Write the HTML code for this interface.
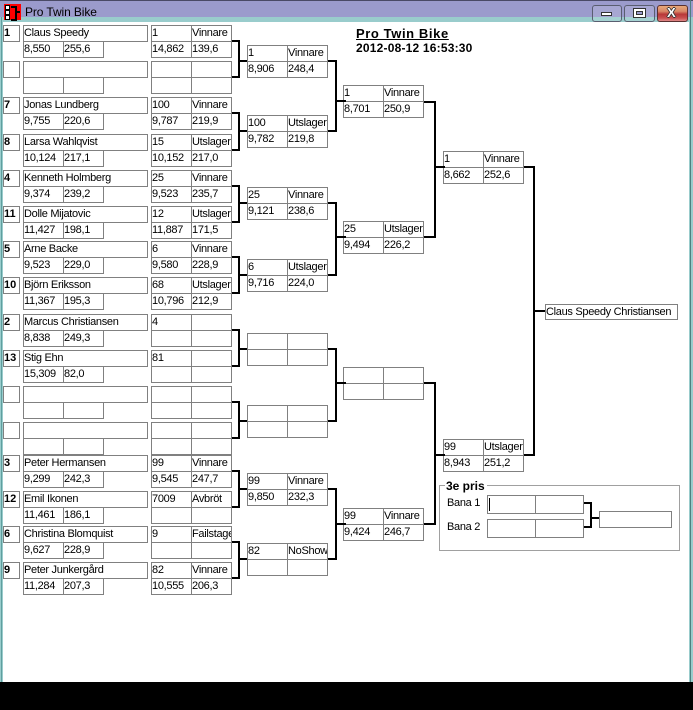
<!DOCTYPE html>
<html><head><meta charset="utf-8">
<style>
*{margin:0;padding:0}
html,body{width:693px;height:710px;overflow:hidden;background:#000}
.win{position:absolute;left:0;top:0;width:693px;height:682px;background:#fff;overflow:hidden}
.c{position:absolute;box-sizing:border-box;border:1px solid #808080;background:#fff;overflow:hidden;white-space:nowrap;height:17px;width:41px;font:11px/14px "Liberation Sans",sans-serif;letter-spacing:-0.3px;color:#000;z-index:1}
.s{width:17px;font-weight:bold;letter-spacing:0}
.n{width:125px}
.l{position:absolute;background:#000;z-index:2}
.a{left:232px;width:8px;height:2px}
.av{left:238px;width:2px}
.am{left:240px;width:7px;height:2px}
.b{left:328px;width:9px;height:2px}
.bv{left:335px;width:2px}
.bm{left:337px;width:9px;height:2px}
.d{left:424px;width:12px;height:2px}
.dv{left:434px;width:2px}
.dm{left:436px;width:9px;height:2px}
.t{position:absolute;white-space:nowrap;font-family:"Liberation Sans",sans-serif;color:#000}
</style></head><body>
<div class="win">
<!-- chrome -->
<div style="position:absolute;left:0;top:0;width:693px;height:17px;background:#9b9bcc"></div>
<div style="position:absolute;left:0;top:0;width:693px;height:1px;background:#4a4a66"></div>
<div style="position:absolute;left:0;top:17px;width:693px;height:5px;background:#99cccc"></div>
<div style="position:absolute;left:0;top:17px;width:3px;height:665px;background:#99cccc"></div>
<div style="position:absolute;left:1px;top:17px;width:1px;height:665px;background:#5f9f9f"></div>
<div style="position:absolute;left:689px;top:17px;width:4px;height:665px;background:#99cccc"></div>
<div style="position:absolute;left:690px;top:0;width:1px;height:682px;background:#4f7f7f"></div>
<div style="position:absolute;left:4px;top:4px;width:17px;height:16px;background:#f00"></div>
<div style="position:absolute;left:5px;top:5px;width:3px;height:3px;background:#fff;border:1px solid #000"></div>
<div style="position:absolute;left:5px;top:10px;width:3px;height:3px;background:#fff;border:1px solid #000"></div>
<div style="position:absolute;left:5px;top:15px;width:3px;height:3px;background:#fff;border:1px solid #000"></div>
<div style="position:absolute;left:11px;top:6px;width:4px;height:11px;border:2px solid #000;border-left:none"></div>
<div style="position:absolute;left:16px;top:11px;width:4px;height:2px;background:#000"></div>
<div class="t" style="left:25px;top:5px;font-size:12px;line-height:14px;letter-spacing:-0.1px">Pro Twin Bike</div>
<div style="position:absolute;left:592px;top:5px;width:30px;height:17px;box-sizing:border-box;border:1px solid #5a5e70;border-radius:3px;background:rgba(255,255,255,0.12)"></div>
<div style="position:absolute;left:601px;top:12px;width:11px;height:4px;box-sizing:border-box;background:#fff;border:1px solid #333"></div>
<div style="position:absolute;left:624px;top:5px;width:31px;height:17px;box-sizing:border-box;border:1px solid #5a5e70;border-radius:3px;background:rgba(255,255,255,0.12)"></div>
<div style="position:absolute;left:633px;top:8px;width:13px;height:10px;box-sizing:border-box;background:#fff;border:1px solid #333"></div>
<div style="position:absolute;left:636px;top:11px;width:7px;height:4px;box-sizing:border-box;background:#9b9bcc;border:1px solid #333"></div>
<div style="position:absolute;left:657px;top:5px;width:31px;height:17px;box-sizing:border-box;border:1px solid #5a3030;border-radius:3px;background:linear-gradient(#e8a878,#d88868 35%,#b83838 55%,#c85050 80%,#e08888)"></div>
<div class="t" style="left:667px;top:6px;font-size:13px;line-height:14px;font-weight:bold;color:#fff;text-shadow:1px 0 #333,-1px 0 #333,0 1px #333,0 -1px #333">X</div>

<!-- titles -->
<div class="t" style="left:356px;top:26px;font-size:13px;line-height:16px;font-weight:bold;text-decoration:underline;letter-spacing:0.6px">Pro Twin Bike</div>
<div class="t" style="left:356px;top:41px;font-size:12px;line-height:15px;font-weight:bold;letter-spacing:0.2px">2012-08-12 16:53:30</div>

<!-- Round 1 blocks -->
<div class="c s" style="left:3px;top:25px">1</div><div class="c n" style="left:23px;top:25px">Claus Speedy</div>
<div class="c" style="left:23px;top:41px">8,550</div><div class="c" style="left:63px;top:41px">255,6</div>
<div class="c" style="left:151px;top:25px">1</div><div class="c" style="left:191px;top:25px">Vinnare</div>
<div class="c" style="left:151px;top:41px">14,862</div><div class="c" style="left:191px;top:41px">139,6</div>

<div class="c s" style="left:3px;top:61px"></div><div class="c n" style="left:23px;top:61px"></div>
<div class="c" style="left:23px;top:77px"></div><div class="c" style="left:63px;top:77px"></div>
<div class="c" style="left:151px;top:61px"></div><div class="c" style="left:191px;top:61px"></div>
<div class="c" style="left:151px;top:77px"></div><div class="c" style="left:191px;top:77px"></div>

<div class="c s" style="left:3px;top:97px">7</div><div class="c n" style="left:23px;top:97px">Jonas Lundberg</div>
<div class="c" style="left:23px;top:113px">9,755</div><div class="c" style="left:63px;top:113px">220,6</div>
<div class="c" style="left:151px;top:97px">100</div><div class="c" style="left:191px;top:97px">Vinnare</div>
<div class="c" style="left:151px;top:113px">9,787</div><div class="c" style="left:191px;top:113px">219,9</div>

<div class="c s" style="left:3px;top:134px">8</div><div class="c n" style="left:23px;top:134px">Larsa Wahlqvist</div>
<div class="c" style="left:23px;top:150px">10,124</div><div class="c" style="left:63px;top:150px">217,1</div>
<div class="c" style="left:151px;top:134px">15</div><div class="c" style="left:191px;top:134px">Utslager</div>
<div class="c" style="left:151px;top:150px">10,152</div><div class="c" style="left:191px;top:150px">217,0</div>

<div class="c s" style="left:3px;top:170px">4</div><div class="c n" style="left:23px;top:170px">Kenneth Holmberg</div>
<div class="c" style="left:23px;top:186px">9,374</div><div class="c" style="left:63px;top:186px">239,2</div>
<div class="c" style="left:151px;top:170px">25</div><div class="c" style="left:191px;top:170px">Vinnare</div>
<div class="c" style="left:151px;top:186px">9,523</div><div class="c" style="left:191px;top:186px">235,7</div>

<div class="c s" style="left:3px;top:206px">11</div><div class="c n" style="left:23px;top:206px">Dolle Mijatovic</div>
<div class="c" style="left:23px;top:222px">11,427</div><div class="c" style="left:63px;top:222px">198,1</div>
<div class="c" style="left:151px;top:206px">12</div><div class="c" style="left:191px;top:206px">Utslager</div>
<div class="c" style="left:151px;top:222px">11,887</div><div class="c" style="left:191px;top:222px">171,5</div>

<div class="c s" style="left:3px;top:241px">5</div><div class="c n" style="left:23px;top:241px">Arne Backe</div>
<div class="c" style="left:23px;top:257px">9,523</div><div class="c" style="left:63px;top:257px">229,0</div>
<div class="c" style="left:151px;top:241px">6</div><div class="c" style="left:191px;top:241px">Vinnare</div>
<div class="c" style="left:151px;top:257px">9,580</div><div class="c" style="left:191px;top:257px">228,9</div>

<div class="c s" style="left:3px;top:277px">10</div><div class="c n" style="left:23px;top:277px">Björn Eriksson</div>
<div class="c" style="left:23px;top:293px">11,367</div><div class="c" style="left:63px;top:293px">195,3</div>
<div class="c" style="left:151px;top:277px">68</div><div class="c" style="left:191px;top:277px">Utslager</div>
<div class="c" style="left:151px;top:293px">10,796</div><div class="c" style="left:191px;top:293px">212,9</div>

<div class="c s" style="left:3px;top:314px">2</div><div class="c n" style="left:23px;top:314px">Marcus Christiansen</div>
<div class="c" style="left:23px;top:330px">8,838</div><div class="c" style="left:63px;top:330px">249,3</div>
<div class="c" style="left:151px;top:314px">4</div><div class="c" style="left:191px;top:314px"></div>
<div class="c" style="left:151px;top:330px"></div><div class="c" style="left:191px;top:330px"></div>

<div class="c s" style="left:3px;top:350px">13</div><div class="c n" style="left:23px;top:350px">Stig Ehn</div>
<div class="c" style="left:23px;top:366px">15,309</div><div class="c" style="left:63px;top:366px">82,0</div>
<div class="c" style="left:151px;top:350px">81</div><div class="c" style="left:191px;top:350px"></div>
<div class="c" style="left:151px;top:366px"></div><div class="c" style="left:191px;top:366px"></div>

<div class="c s" style="left:3px;top:386px"></div><div class="c n" style="left:23px;top:386px"></div>
<div class="c" style="left:23px;top:402px"></div><div class="c" style="left:63px;top:402px"></div>
<div class="c" style="left:151px;top:386px"></div><div class="c" style="left:191px;top:386px"></div>
<div class="c" style="left:151px;top:402px"></div><div class="c" style="left:191px;top:402px"></div>

<div class="c s" style="left:3px;top:422px"></div><div class="c n" style="left:23px;top:422px"></div>
<div class="c" style="left:23px;top:438px"></div><div class="c" style="left:63px;top:438px"></div>
<div class="c" style="left:151px;top:422px"></div><div class="c" style="left:191px;top:422px"></div>
<div class="c" style="left:151px;top:438px"></div><div class="c" style="left:191px;top:438px"></div>

<div class="c s" style="left:3px;top:455px">3</div><div class="c n" style="left:23px;top:455px">Peter Hermansen</div>
<div class="c" style="left:23px;top:471px">9,299</div><div class="c" style="left:63px;top:471px">242,3</div>
<div class="c" style="left:151px;top:455px">99</div><div class="c" style="left:191px;top:455px">Vinnare</div>
<div class="c" style="left:151px;top:471px">9,545</div><div class="c" style="left:191px;top:471px">247,7</div>

<div class="c s" style="left:3px;top:491px">12</div><div class="c n" style="left:23px;top:491px">Emil Ikonen</div>
<div class="c" style="left:23px;top:507px">11,461</div><div class="c" style="left:63px;top:507px">186,1</div>
<div class="c" style="left:151px;top:491px">7009</div><div class="c" style="left:191px;top:491px">Avbröt</div>
<div class="c" style="left:151px;top:507px"></div><div class="c" style="left:191px;top:507px"></div>

<div class="c s" style="left:3px;top:526px">6</div><div class="c n" style="left:23px;top:526px">Christina Blomquist</div>
<div class="c" style="left:23px;top:542px">9,627</div><div class="c" style="left:63px;top:542px">228,9</div>
<div class="c" style="left:151px;top:526px">9</div><div class="c" style="left:191px;top:526px">Failstage</div>
<div class="c" style="left:151px;top:542px"></div><div class="c" style="left:191px;top:542px"></div>

<div class="c s" style="left:3px;top:562px">9</div><div class="c n" style="left:23px;top:562px">Peter Junkergård</div>
<div class="c" style="left:23px;top:578px">11,284</div><div class="c" style="left:63px;top:578px">207,3</div>
<div class="c" style="left:151px;top:562px">82</div><div class="c" style="left:191px;top:562px">Vinnare</div>
<div class="c" style="left:151px;top:578px">10,555</div><div class="c" style="left:191px;top:578px">206,3</div>

<!-- Round 2 -->
<div class="c" style="left:247px;top:45px">1</div><div class="c" style="left:287px;top:45px">Vinnare</div>
<div class="c" style="left:247px;top:61px">8,906</div><div class="c" style="left:287px;top:61px">248,4</div>
<div class="c" style="left:247px;top:115px">100</div><div class="c" style="left:287px;top:115px">Utslager</div>
<div class="c" style="left:247px;top:131px">9,782</div><div class="c" style="left:287px;top:131px">219,8</div>
<div class="c" style="left:247px;top:187px">25</div><div class="c" style="left:287px;top:187px">Vinnare</div>
<div class="c" style="left:247px;top:203px">9,121</div><div class="c" style="left:287px;top:203px">238,6</div>
<div class="c" style="left:247px;top:259px">6</div><div class="c" style="left:287px;top:259px">Utslager</div>
<div class="c" style="left:247px;top:275px">9,716</div><div class="c" style="left:287px;top:275px">224,0</div>
<div class="c" style="left:247px;top:333px"></div><div class="c" style="left:287px;top:333px"></div>
<div class="c" style="left:247px;top:349px"></div><div class="c" style="left:287px;top:349px"></div>
<div class="c" style="left:247px;top:405px"></div><div class="c" style="left:287px;top:405px"></div>
<div class="c" style="left:247px;top:421px"></div><div class="c" style="left:287px;top:421px"></div>
<div class="c" style="left:247px;top:473px">99</div><div class="c" style="left:287px;top:473px">Vinnare</div>
<div class="c" style="left:247px;top:489px">9,850</div><div class="c" style="left:287px;top:489px">232,3</div>
<div class="c" style="left:247px;top:543px">82</div><div class="c" style="left:287px;top:543px">NoShow</div>
<div class="c" style="left:247px;top:559px"></div><div class="c" style="left:287px;top:559px"></div>

<!-- Round 3 -->
<div class="c" style="left:343px;top:85px">1</div><div class="c" style="left:383px;top:85px">Vinnare</div>
<div class="c" style="left:343px;top:101px">8,701</div><div class="c" style="left:383px;top:101px">250,9</div>
<div class="c" style="left:343px;top:221px">25</div><div class="c" style="left:383px;top:221px">Utslager</div>
<div class="c" style="left:343px;top:237px">9,494</div><div class="c" style="left:383px;top:237px">226,2</div>
<div class="c" style="left:343px;top:367px"></div><div class="c" style="left:383px;top:367px"></div>
<div class="c" style="left:343px;top:383px"></div><div class="c" style="left:383px;top:383px"></div>
<div class="c" style="left:343px;top:508px">99</div><div class="c" style="left:383px;top:508px">Vinnare</div>
<div class="c" style="left:343px;top:524px">9,424</div><div class="c" style="left:383px;top:524px">246,7</div>

<!-- Round 4 -->
<div class="c" style="left:443px;top:151px">1</div><div class="c" style="left:483px;top:151px">Vinnare</div>
<div class="c" style="left:443px;top:167px">8,662</div><div class="c" style="left:483px;top:167px">252,6</div>
<div class="c" style="left:443px;top:439px">99</div><div class="c" style="left:483px;top:439px">Utslager</div>
<div class="c" style="left:443px;top:455px">8,943</div><div class="c" style="left:483px;top:455px">251,2</div>

<!-- Final -->
<div class="c" style="left:545px;top:304px;width:133px;height:16px">Claus Speedy Christiansen</div>

<!-- Connectors R1->R2 -->
<div class="l a" style="top:40px"></div><div class="l a" style="top:76px"></div><div class="l av" style="top:40px;height:38px"></div><div class="l am" style="top:60px"></div>
<div class="l a" style="top:112px"></div><div class="l a" style="top:149px"></div><div class="l av" style="top:112px;height:39px"></div><div class="l am" style="top:130px"></div>
<div class="l a" style="top:185px"></div><div class="l a" style="top:221px"></div><div class="l av" style="top:185px;height:38px"></div><div class="l am" style="top:202px"></div>
<div class="l a" style="top:256px"></div><div class="l a" style="top:292px"></div><div class="l av" style="top:256px;height:38px"></div><div class="l am" style="top:274px"></div>
<div class="l a" style="top:329px"></div><div class="l a" style="top:365px"></div><div class="l av" style="top:329px;height:38px"></div><div class="l am" style="top:348px"></div>
<div class="l a" style="top:401px"></div><div class="l a" style="top:437px"></div><div class="l av" style="top:401px;height:38px"></div><div class="l am" style="top:420px"></div>
<div class="l a" style="top:470px"></div><div class="l a" style="top:506px"></div><div class="l av" style="top:470px;height:38px"></div><div class="l am" style="top:488px"></div>
<div class="l a" style="top:541px"></div><div class="l a" style="top:577px"></div><div class="l av" style="top:541px;height:38px"></div><div class="l am" style="top:558px"></div>

<!-- Connectors R2->R3 -->
<div class="l b" style="top:60px"></div><div class="l b" style="top:130px"></div><div class="l bv" style="top:60px;height:72px"></div><div class="l bm" style="top:100px"></div>
<div class="l b" style="top:202px"></div><div class="l b" style="top:274px"></div><div class="l bv" style="top:202px;height:74px"></div><div class="l bm" style="top:236px"></div>
<div class="l b" style="top:348px"></div><div class="l b" style="top:420px"></div><div class="l bv" style="top:348px;height:74px"></div><div class="l bm" style="top:382px"></div>
<div class="l b" style="top:488px"></div><div class="l b" style="top:558px"></div><div class="l bv" style="top:488px;height:72px"></div><div class="l bm" style="top:523px"></div>

<!-- Connectors R3->R4 -->
<div class="l d" style="top:101px"></div><div class="l d" style="top:236px"></div><div class="l dv" style="top:101px;height:137px"></div><div class="l dm" style="top:166px"></div>
<div class="l d" style="top:382px"></div><div class="l d" style="top:523px"></div><div class="l dv" style="top:382px;height:143px"></div><div class="l dm" style="top:454px"></div>

<!-- Connectors R4->Final -->
<div class="l" style="left:524px;top:166px;width:11px;height:2px"></div>
<div class="l" style="left:524px;top:454px;width:11px;height:2px"></div>
<div class="l" style="left:533px;top:166px;width:2px;height:290px"></div>
<div class="l" style="left:535px;top:310px;width:10px;height:2px"></div>

<!-- 3e pris -->
<div style="position:absolute;left:439px;top:485px;width:241px;height:66px;box-sizing:border-box;border:1px solid #a0a0a0"></div>
<div class="t" style="left:445px;top:479px;font-size:12px;line-height:14px;font-weight:bold;background:#fff;padding:0 2px 0 1px">3e pris</div>
<div class="t" style="left:447px;top:496px;font-size:11px;line-height:14px;letter-spacing:-0.3px">Bana 1</div>
<div class="t" style="left:447px;top:520px;font-size:11px;line-height:14px;letter-spacing:-0.3px">Bana 2</div>
<div class="c" style="left:487px;top:495px;width:49px;height:19px"></div><div class="c" style="left:535px;top:495px;width:49px;height:19px"></div>
<div class="c" style="left:487px;top:519px;width:49px;height:19px"></div><div class="c" style="left:535px;top:519px;width:49px;height:19px"></div>
<div class="l" style="left:489px;top:498px;width:1px;height:13px"></div>
<div class="c" style="left:599px;top:511px;width:73px;height:17px"></div>
<div class="l" style="left:584px;top:502px;width:8px;height:2px"></div>
<div class="l" style="left:584px;top:526px;width:8px;height:2px"></div>
<div class="l" style="left:590px;top:502px;width:2px;height:26px"></div>
<div class="l" style="left:592px;top:517px;width:7px;height:2px"></div>
</div>
</body></html>
